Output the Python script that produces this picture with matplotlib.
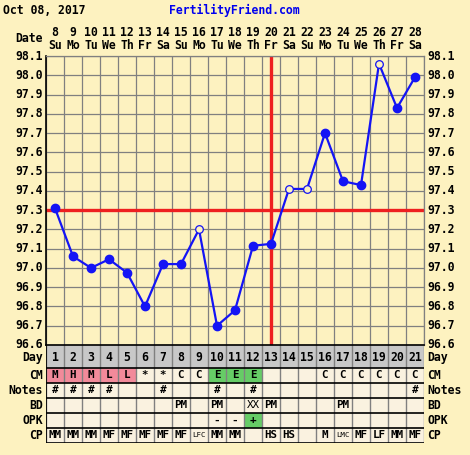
import matplotlib
matplotlib.use("Agg")
import matplotlib.pyplot as plt
from matplotlib.patches import Rectangle

# chart data
days = list(range(1, 22))
dates = list(range(8, 29))
weekdays = ["Su", "Mo", "Tu", "We", "Th", "Fr", "Sa"] * 3
temps = [97.31, 97.06, 97.00, 97.045, 96.975, 96.80, 97.02, 97.02, 97.20, 96.70, 96.78,
         97.115, 97.125, 97.41, 97.41, 97.70, 97.45, 97.43, 98.06, 97.83, 97.99]
open_days = [9, 14, 15, 19]
coverline = 97.3
ovulation_day = 13
yticks = [98.1, 98.0, 97.9, 97.8, 97.7, 97.6, 97.5, 97.4, 97.3, 97.2, 97.1, 97.0, 96.9, 96.8, 96.7, 96.6]

cm = ["M", "H", "M", "L", "L", "*", "*", "C", "C", "E", "E", "E", "", "", "", "C", "C", "C", "C", "C", "C"]
notes = ["#", "#", "#", "#", "", "", "#", "", "", "#", "", "#", "", "", "", "", "", "", "", "", "#"]
bd = ["", "", "", "", "", "", "", "PM", "", "PM", "", "XX", "PM", "", "", "", "PM", "", "", "", ""]
opk = ["", "", "", "", "", "", "", "", "", "-", "-", "+", "", "", "", "", "", "", "", "", ""]
cp = ["MM", "MM", "MM", "MF", "MF", "MF", "MF", "MF", "LFC", "MM", "MM", "", "HS", "HS", "", "M",
      "LMC", "MF", "LF", "MM", "MF"]
row_names = ["CM", "Notes", "BD", "OPK", "CP"]

BG = "#FDF2C0"
CELL = "#FAF2E0"
GRAY = "#C8C8C8"
PINK = "#F28A9A"
GREEN = "#66CC66"
GRID = "#808080"
BLUE = "#1414F5"
RED = "#EE2020"
MONO = "DejaVu Sans Mono"

W, H = 470, 455
fig = plt.figure(figsize=(W / 100, H / 100), dpi=100, facecolor=BG)


def fx(x):
    return x / W


def fy(y):
    return 1 - y / H


def label(x, y, s, ha="center", size=8.3, bold=True, color="black"):
    fig.text(fx(x), fy(y), s, ha=ha, va="center", fontsize=size, family=MONO,
             fontweight="bold" if bold else "normal", color=color)


L, R, T, B = 46, 424, 56, 345

# temperature chart
ax = fig.add_axes([fx(L), fy(B), fx(R) - fx(L), (B - T) / H])
ax.set_facecolor(BG)
ax.set_xlim(0.5, 21.5)
ax.set_ylim(96.6, 98.1)
for d in range(22):
    ax.axvline(d + 0.5, color=GRID, lw=0.9, zorder=1)
for t in yticks:
    ax.axhline(t, color=GRID, lw=0.9, zorder=1)
ax.axhline(coverline, color=RED, lw=2.4, zorder=2)
ax.axvline(ovulation_day, color=RED, lw=2.4, zorder=2)
ax.plot(days, temps, color=BLUE, lw=1.6, zorder=3)
filled = [(d, t) for d, t in zip(days, temps) if d not in open_days]
hollow = [(d, t) for d, t in zip(days, temps) if d in open_days]
ax.plot([p[0] for p in filled], [p[1] for p in filled], "o", color=BLUE, ms=6, zorder=4)
ax.plot([p[0] for p in hollow], [p[1] for p in hollow], "o", mfc=BG, mec=BLUE, mew=0.9,
        ms=5.5, zorder=4)
ax.set_xticks([])
ax.set_yticks([])
for side in ["top", "right"]:
    ax.spines[side].set_color(GRID)
    ax.spines[side].set_linewidth(0.9)
for side in ["left", "bottom"]:
    ax.spines[side].set_color("black")
    ax.spines[side].set_linewidth(1.2)

for t in yticks:
    y = B - (t - 96.6) / 1.5 * (B - T)
    label(43, y, f"{t:.1f}", ha="right")
    label(427, y, f"{t:.1f}", ha="left")

# header
label(3, 10, "Oct 08, 2017", ha="left")
label(234, 10, "FertilityFriend.com", color="#0000EE")
label(43, 39, "Date", ha="right")
for d, dt, wd in zip(days, dates, weekdays):
    x = L + (d - 0.5) * 18
    label(x, 33, str(dt))
    label(x, 45.5, wd)

# table below
edges = [345, 368, 383, 398, 413, 428, 443]
tab = fig.add_axes([fx(L), fy(edges[-1]), fx(R) - fx(L), (edges[-1] - edges[0]) / H])
tab.set_xlim(0.5, 21.5)
tab.set_ylim(edges[-1], edges[0])
tab.axis("off")

rows = [cm, notes, bd, opk, cp]
for i, d in enumerate(days):
    tab.add_patch(Rectangle((d - 0.5, edges[0]), 1, edges[1] - edges[0], fc=GRAY, ec="none"))
    tab.text(d, (edges[0] + edges[1]) / 2 + 1, str(d), ha="center", va="center",
             fontsize=8.3, family=MONO, fontweight="bold")
    for r, vals in enumerate(rows):
        y0, y1 = edges[r + 1], edges[r + 2]
        fc = CELL
        if r == 0 and vals[i] in ("M", "H", "L"):
            fc = PINK
        elif r == 0 and vals[i] == "E":
            fc = GREEN
        elif r == 3 and vals[i] == "+":
            fc = GREEN
        tab.add_patch(Rectangle((d - 0.5, y0), 1, y1 - y0, fc=fc, ec="none"))
        s = vals[i]
        if not s:
            continue
        small = len(s) == 3
        thin = s == "XX"
        tab.text(d, (y0 + y1) / 2, s, ha="center", va="center",
                 fontsize=5.3 if small else 7.8, family=MONO,
                 fontweight="normal" if (small or thin) else "bold")

for d in range(22):
    tab.plot([d + 0.5, d + 0.5], [edges[0], edges[-1]], color=GRID, lw=1.0)
for y in edges:
    tab.plot([0.5, 21.5], [y, y], color="black", lw=1.2)
tab.plot([0.5, 0.5], [edges[0], edges[-1]], color="black", lw=1.2)

label(43, 358, "Day", ha="right")
label(427, 358, "Day", ha="left")
for r, name in enumerate(row_names):
    y = (edges[r + 1] + edges[r + 2]) / 2
    label(43, y, name, ha="right")
    label(427, y, name, ha="left")

fig.savefig("out.png", dpi=100, facecolor=BG)
